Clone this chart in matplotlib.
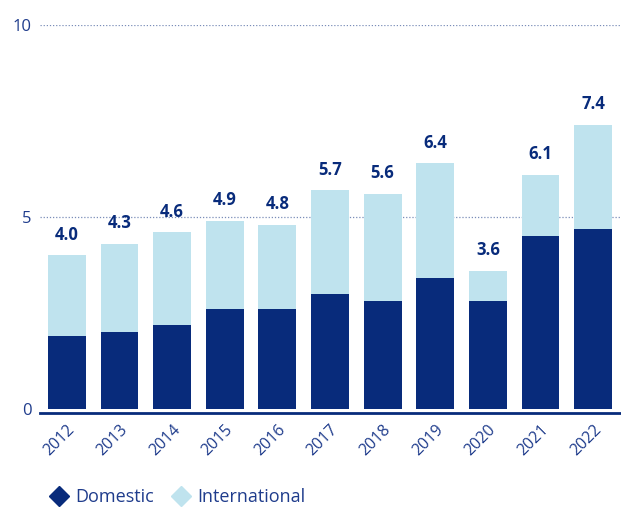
import numpy as np
import matplotlib
matplotlib.use('Agg')
from matplotlib import pyplot as plt
from matplotlib.lines import Line2D

years = ['2012', '2013', '2014', '2015', '2016', '2017', '2018', '2019', '2020', '2021', '2022']
totals = [4.0, 4.3, 4.6, 4.9, 4.8, 5.7, 5.6, 6.4, 3.6, 6.1, 7.4]
domestic = [1.9, 2.0, 2.2, 2.6, 2.6, 3.0, 2.8, 3.4, 2.8, 4.5, 4.7]
international = [round(t - d, 1) for t, d in zip(totals, domestic)]

navy = '#082b7b'
light = '#bfe3ee'
txt = '#1f3c8c'

plt.rcParams['font.family'] = ['Open Sans', 'DejaVu Sans']

fig = plt.figure(figsize=(6.21, 5.08), dpi=100)
ax = fig.add_axes([40/621, 99/508, 581/621, 384/508])

# spine offset first: it resets the ticks
for s in ['top', 'right', 'left']:
    ax.spines[s].set_visible(False)
ax.spines['bottom'].set_position(('outward', 3))
ax.spines['bottom'].set_color(navy)
ax.spines['bottom'].set_linewidth(2)

x = np.arange(len(years))
ax.bar(x, domestic, width=0.72, color=navy, zorder=3)
ax.bar(x, international, width=0.72, bottom=domestic, color=light, zorder=3)

for xi, t in zip(x, totals):
    ax.text(xi, t + 0.3, f'{t:.1f}', ha='center', va='bottom',
            fontsize=12, fontweight='bold', color=navy)

ax.set_xlim(-0.51, 10.53)
ax.set_ylim(0, 10)
ax.set_yticks([0, 5, 10])
ax.set_yticklabels(['0', '5', '10'], fontsize=12, color=txt)
for y in [5, 10]:
    ax.axhline(y, color='#7a8db8', lw=0.9, ls=(0, (1, 1.5)), zorder=1)

ax.set_xticks(x)
ax.set_xticklabels(years, rotation=45, ha='right', rotation_mode='anchor',
                   fontsize=11.5, color=txt)
ax.tick_params(axis='x', length=0, pad=6)
ax.tick_params(axis='y', length=0, pad=6)

handles = [Line2D([], [], marker='D', ls='none', color=navy, markersize=10),
           Line2D([], [], marker='D', ls='none', color=light, markersize=10)]
fig.legend(handles, ['Domestic', 'International'], loc='center left',
           bbox_to_anchor=(32/621, 1 - 497/508), ncol=2, frameon=False,
           fontsize=13, handletextpad=0.3, columnspacing=0.9,
           labelcolor=txt, handlelength=1.2)

fig.savefig('out.png', dpi=100)
